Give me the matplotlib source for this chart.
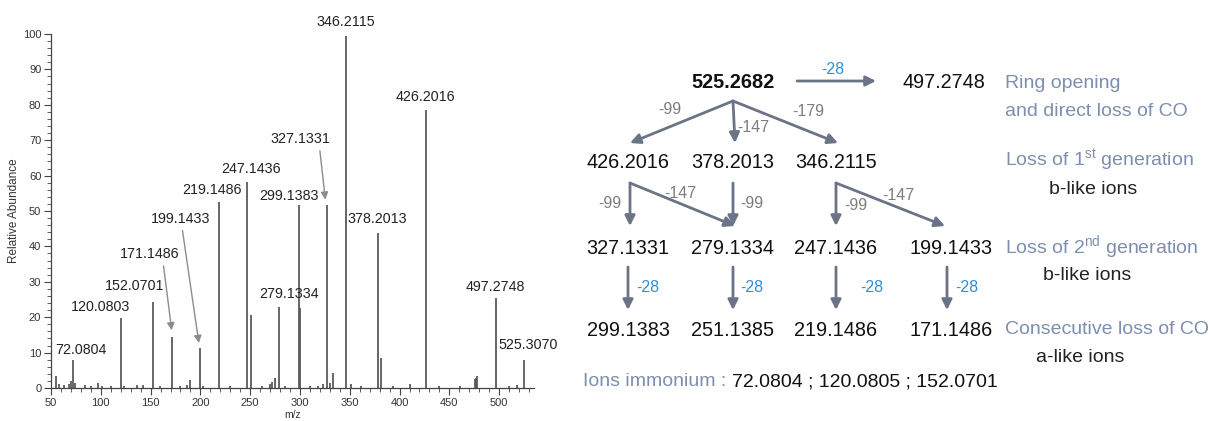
import matplotlib
matplotlib.use("Agg")
import matplotlib.pyplot as plt
from matplotlib.patches import FancyArrowPatch

plt.rcParams['font.family'] = ['Liberation Sans', 'DejaVu Sans']
plt.rcParams['mathtext.default'] = 'regular'

# ---- spectrum data (m/z, relative abundance) ----
mz = [55, 58, 63, 68, 70, 72.08, 74, 84, 90, 97, 101, 110, 120.08, 123, 136,
      142, 152.07, 159, 171.15, 180, 187, 190, 199.14, 203, 219.15, 230,
      247.14, 251.14, 262, 270, 272, 275, 279.13, 285, 299.14, 300.14, 310,
      318, 323, 327.13, 330, 333, 346.21, 351, 361, 378.20, 381.20, 393,
      410, 426.20, 440, 461, 476, 477, 478, 497.27, 510, 518, 525.31]
intensity = [3.4, 1.0, 0.8, 1.2, 2.0, 8.0, 1.5, 0.8, 0.6, 1.5, 0.7, 0.6, 19.8,
             0.7, 0.8, 0.9, 24.3, 0.6, 14.4, 0.5, 0.8, 2.2, 11.3, 0.7, 52.6,
             0.5, 58.3, 20.6, 0.6, 1.0, 1.6, 2.9, 22.8, 0.6, 51.7, 22.6, 0.5,
             0.7, 1.2, 51.7, 1.5, 4.3, 99.4, 1.2, 0.6, 43.7, 8.5, 0.5, 1.0,
             78.5, 0.5, 0.6, 2.5, 2.8, 3.5, 25.3, 0.6, 0.8, 7.9]

peak_labels = ["72.0804", "120.0803", "152.0701", "171.1486", "199.1433",
               "219.1486", "247.1436", "279.1334", "299.1383", "327.1331",
               "346.2115", "378.2013", "426.2016", "497.2748", "525.3070"]
label_x = [80, 100, 134, 149, 180, 212, 251, 289, 289, 300, 346, 378, 426, 496, 529]
label_y = [10.7, 23.0, 28.8, 37.8, 47.6, 55.9, 61.8, 26.5, 54.2, 70.3, 103.5,
           47.6, 82.3, 28.4, 12.1]
# labels pointing to their peak with an arrow: (label index, arrow start, tip)
arrow_labels = {3: ((163, 34.5), (171.2, 16.3)),
                4: ((182, 44.5), (198.5, 12.7)),
                9: ((320, 67.0), (325.5, 53.2))}

# ---- fragmentation scheme ----
parent = "525.2682"
co_ion = "497.2748"
gen1 = ["426.2016", "378.2013", "346.2115"]
gen2 = ["327.1331", "279.1334", "247.1436", "199.1433"]
gen3 = ["299.1383", "251.1385", "219.1486", "171.1486"]
parent_losses = ["-99", "-147", "-179"]
# (from gen1 index, to gen2 index, loss)
gen1_edges = [(0, 0, "-99"), (0, 1, "-147"), (1, 1, "-99"), (2, 2, "-99"), (2, 3, "-147")]
co_loss = "-28"
immonium = ["72.0804", "120.0805", "152.0701"]
row_notes = [("Ring opening", "and direct loss of CO"),
             ("Loss of 1$^{st}$ generation", "b-like ions"),
             ("Loss of 2$^{nd}$ generation", "b-like ions"),
             ("Consecutive loss of CO", "a-like ions")]

W, H = 1214, 421
fig = plt.figure(figsize=(W / 100, H / 100), dpi=100)

# spectrum axes
ax = fig.add_axes([51 / W, 1 - 388 / H, 483 / W, 354 / H])
ax.vlines(mz, 0, intensity, color='#5a5a5a', linewidth=1.3)
ax.set_xlim(50, 535)
ax.set_ylim(0, 100)
for s in ['top', 'right']:
    ax.spines[s].set_visible(False)
for s in ['left', 'bottom']:
    ax.spines[s].set_color('#444444')
    ax.spines[s].set_linewidth(0.9)
ax.set_xticks(range(50, 501, 50))
ax.set_xticks(range(50, 531, 10), minor=True)
ax.set_yticks(range(0, 101, 10))
ax.set_yticks(range(0, 101, 2), minor=True)
ax.tick_params(which='major', length=5, width=0.8, color='#444444', labelsize=8,
               labelcolor='#333333', pad=2)
ax.tick_params(which='minor', length=3, width=0.6, color='#444444')
ax.set_xlabel('m/z', fontsize=7.5, color='#333333', labelpad=2)
ax.set_ylabel('Relative Abundance', fontsize=8.5, color='#333333', labelpad=2)

for i, txt in enumerate(peak_labels):
    ax.text(label_x[i], label_y[i], txt, ha='center', va='center', fontsize=10.3,
            color='#222222')
for i, (start, tip) in arrow_labels.items():
    ax.annotate('', xy=tip, xytext=start,
                arrowprops=dict(arrowstyle='-|>', color='#8c8c8c', lw=1.0,
                                mutation_scale=11, shrinkA=0, shrinkB=0))

# scheme drawn in pixel coordinates
ax2 = fig.add_axes([0, 0, 1, 1])
ax2.set_xlim(0, W)
ax2.set_ylim(H, 0)
ax2.axis('off')

col_x = [628, 733, 836, 951]
row_y = [83, 163, 249, 331]
arrow_c = '#6b7487'
gray_c = '#7d7d7d'
blue_c = '#2f8fd3'
note_c = '#7d8fae'
num_fs = 14.3
note_fs = 14


def arrow(x0, y0, x1, y1):
    ax2.add_patch(FancyArrowPatch((x0, y0), (x1, y1), arrowstyle='-|>',
                                  mutation_scale=15, color=arrow_c, lw=2.0,
                                  shrinkA=0, shrinkB=0))


ax2.text(col_x[1], row_y[0], parent, ha='center', va='center', fontsize=num_fs,
         fontweight='bold', color='#111111')
arrow(797, 81, 876, 81)
ax2.text(833, 70, co_loss, ha='center', va='center', fontsize=11.5,
         color=blue_c)
ax2.text(944, row_y[0], co_ion, ha='center', va='center', fontsize=num_fs,
         color='#111111')

for i, txt in enumerate(gen1):
    ax2.text(col_x[i], row_y[1], txt, ha='center', va='center', fontsize=num_fs,
             color='#111111')
for rows, y in [(gen2, row_y[2]), (gen3, row_y[3])]:
    for i, txt in enumerate(rows):
        ax2.text(col_x[i], y, txt, ha='center', va='center', fontsize=num_fs,
                 color='#111111')

# parent -> first generation
parent_lab_pos = [(670, 110), (753, 127), (808, 112)]
for i, loss in enumerate(parent_losses):
    arrow(col_x[1], 101, col_x[i] + 2, 143)
    ax2.text(*parent_lab_pos[i], loss, ha='center', va='center', fontsize=11.5,
             color=gray_c)

# first -> second generation
edge_lab_pos = [(610, 203), (680, 193), (752, 203), (856, 205), (898, 195)]
for (a, b, loss), pos in zip(gen1_edges, edge_lab_pos):
    x0 = col_x[a] + (2 if a == 0 else 0)
    x1 = col_x[b] + (2 if a == 0 else 0)
    if b == 3:
        x1 = 945
    arrow(x0, 183, x1, 226)
    ax2.text(*pos, loss, ha='center', va='center', fontsize=11.5,
             color=gray_c)

# second -> third generation (loss of CO)
co_lab_x = [648, 752, 872, 967]
for i in range(len(gen2)):
    x = col_x[i] + (-4 if i == 3 else 0)
    arrow(x, 267, x, 310)
    ax2.text(co_lab_x[i], 287, co_loss, ha='center', va='center', fontsize=11.5,
             color=blue_c)

# notes on the right
note_first_y = [83, 160, 247, 330]
note_second = [(1005, 111, 'left', note_c), (1093, 189, 'center', '#222222'),
               (1087, 275, 'center', '#222222'), (1080, 358, 'center', '#222222')]
for (l1, l2), y, (x2, y2, ha2, c2) in zip(row_notes, note_first_y, note_second):
    ax2.text(1005, y, l1, ha='left', va='center', fontsize=note_fs, color=note_c)
    ax2.text(x2, y2, l2, ha=ha2, va='center', fontsize=note_fs, color=c2)

t = ax2.text(583, 382, "Ions immonium : ", ha='left', va='center', fontsize=note_fs,
             color=note_c)
fig.canvas.draw()
bb = t.get_window_extent().transformed(ax2.transData.inverted())
ax2.text(bb.x1, 382, " ; ".join(immonium), ha='left', va='center', fontsize=note_fs,
         color='#111111')

fig.savefig('out.png', dpi=100)
